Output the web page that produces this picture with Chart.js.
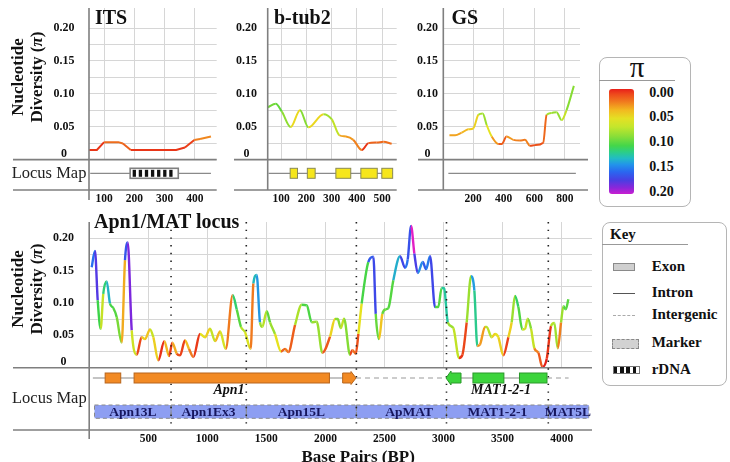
<!DOCTYPE html>
<html lang="en"><head>
<meta charset="utf-8"/>
<title>Nucleotide diversity across loci</title>
<script src="https://cdn.jsdelivr.net/npm/chart.js"></script>
<style>
    body { margin: 0; background: #fff; }
    #fig { position: relative; width: 730px; height: 462px; overflow: hidden; font-family: 'Liberation Serif', 'Times New Roman', serif; color: #111; }
    #fig canvas, #fig .t { position: absolute; }
    .t { white-space: nowrap; }
    .ttl { font-size: 20px; font-weight: bold; line-height: 20px; }
    .ylab { width: 120px; height: 38px; font-size: 17px; font-weight: bold; line-height: 19px; text-align: center; transform: rotate(-90deg); }
    .lm { font-size: 16.5px; line-height: 16.5px; color: #222; }
    .box { position: absolute; border: 1px solid #b5b5b5; border-radius: 8px; box-sizing: border-box; }
    .lg { font-size: 14px; font-weight: bold; line-height: 14px; }
    .key { font-size: 15px; font-weight: bold; line-height: 15px; }
    .sw { position: absolute; box-sizing: border-box; }
</style>
</head>
<body>
<div id="fig">
  <canvas id="cITS" width="225" height="212" style="left:0;top:0"></canvas>
  <canvas id="cTub" width="178" height="212" style="left:225px;top:0"></canvas>
  <canvas id="cGS" width="192" height="212" style="left:403px;top:0"></canvas>
  <canvas id="cApn" width="600" height="252" style="left:0;top:210px"></canvas>

  <div class="t ttl" style="left:95px;top:6.5px">ITS</div>
  <div class="t ttl" style="left:274px;top:6.5px">b-tub2</div>
  <div class="t ttl" style="left:451.5px;top:6.5px">GS</div>
  <div class="t ttl" style="left:94px;top:210.5px">Apn1/MAT locus</div>

  <div class="t ylab" style="left:-33.5px;top:57.7px">Nucleotide<br>Diversity (<i>π</i>)</div>
  <div class="t ylab" style="left:-33.5px;top:270px">Nucleotide<br>Diversity (<i>π</i>)</div>
  <div class="t lm" style="left:11.7px;top:165.4px">Locus Map</div>
  <div class="t lm" style="left:12px;top:389.8px">Locus Map</div>
  <div class="t" style="left:301.5px;top:447.5px;font-size:17px;font-weight:bold;line-height:17px">Base Pairs (BP)</div>

  <!-- pi colour legend -->
  <div class="box" style="left:599px;top:57px;width:92px;height:150px"></div>
  <div class="t" style="left:620px;top:53px;width:34px;text-align:center;font-size:29px;line-height:29px">π</div>
  <div class="sw" style="left:599px;top:79.5px;width:76px;height:0;border-top:1px solid #999"></div>
  <div class="sw" style="left:609px;top:89.3px;width:25.3px;height:105px;border-radius:3px;background:linear-gradient(to bottom,#e8201a 0%,#ee4a1c 5%,#f07a1e 12%,#f2b820 20%,#e4e024 28%,#c4e62c 36%,#8ade38 45%,#44d64a 54%,#2cce86 60%,#22bcc4 66%,#2294ea 72%,#2a66f0 79%,#4a3ee2 87%,#8a26da 94%,#c81ed0 100%)"></div>
  <div class="t lg" style="left:649.3px;top:85.7px">0.00</div>
  <div class="t lg" style="left:649.3px;top:110.4px">0.05</div>
  <div class="t lg" style="left:649.3px;top:134.8px">0.10</div>
  <div class="t lg" style="left:649.3px;top:159.7px">0.15</div>
  <div class="t lg" style="left:649.3px;top:184.7px">0.20</div>

  <!-- key -->
  <div class="box" style="left:601.7px;top:222.3px;width:125px;height:163.5px"></div>
  <div class="t key" style="left:610px;top:227px">Key</div>
  <div class="sw" style="left:601.7px;top:244px;width:86.6px;height:0;border-top:1px solid #999"></div>
  <div class="sw" style="left:612.7px;top:262.7px;width:22.3px;height:8.5px;background:#cfcfcf;border:1px solid #8a8a8a"></div>
  <div class="t key" style="left:651.7px;top:259.4px">Exon</div>
  <div class="sw" style="left:612.7px;top:292.8px;width:22.3px;height:0;border-top:1.2px solid #555"></div>
  <div class="t key" style="left:651.7px;top:284.6px">Intron</div>
  <div class="sw" style="left:612.7px;top:314.5px;width:22.3px;height:0;border-top:1px dashed #aaa"></div>
  <div class="t key" style="left:651.7px;top:306.6px">Intergenic</div>
  <div class="sw" style="left:611.7px;top:339px;width:27.6px;height:9.5px;background:#d2d2d2;border:1px dashed #888"></div>
  <div class="t key" style="left:651.7px;top:335.4px">Marker</div>
  <div class="sw" style="left:612.7px;top:366px;width:27.3px;height:7.5px;border:1px solid #777;background:repeating-linear-gradient(to right,#111 0,#111 3.5px,#fff 3.5px,#fff 6.2px)"></div>
  <div class="t key" style="left:651.7px;top:362.1px">rDNA</div>
</div>
<script>
        // ITS
        const itsBp = [43, 76, 100, 147, 162, 188, 338, 367, 398, 417, 453];
        const itsPi = [0.0146, 0.0146, 0.0265, 0.0265, 0.0245, 0.0146, 0.0146, 0.0184, 0.0298, 0.0313, 0.0350];
        // b-tub2
        const tubBp = [47, 79, 103, 138, 175, 208, 268, 301, 331, 357, 386, 420, 446, 479, 506, 538];
        const tubPi = [0.0795, 0.085, 0.073, 0.0495, 0.075, 0.049, 0.069, 0.061, 0.037, 0.035, 0.030, 0.0146, 0.025, 0.026, 0.027, 0.024];
        // GS
        const gsBp = [46, 83, 126, 169, 202, 235, 263, 289, 322, 365, 387, 419, 463, 506, 539, 571, 604, 658, 680, 713, 745, 778, 810, 858];
        const gsPi = [0.037, 0.037, 0.041, 0.046, 0.0476, 0.068, 0.070, 0.0526, 0.035, 0.0237, 0.0237, 0.035, 0.030, 0.029, 0.030, 0.021, 0.022, 0.0257, 0.068, 0.071, 0.072, 0.060, 0.075, 0.112];
        // Apn1/MAT locus
        const apnBp = [21, 49, 72, 97, 119, 148, 176, 204, 233, 275, 303, 326, 360, 402, 444, 472, 515, 543, 585, 636,
            676, 704, 741, 769, 811, 845, 882, 938, 981, 1023, 1066, 1108, 1156, 1215, 1249, 1285, 1319, 1367, 1390, 1418,
            1446, 1466, 1503, 1531, 1573, 1624, 1658, 1686, 1743, 1799, 1842, 1884, 1926, 1974, 2039, 2081, 2104, 2130, 2158, 2208,
            2228, 2257, 2279, 2307, 2363, 2406, 2426, 2454, 2482, 2511, 2533, 2575, 2632, 2674, 2697, 2725, 2753, 2782, 2824, 2852,
            2886, 2928, 2956, 2984, 3004, 3036, 3083, 3131, 3160, 3196, 3233, 3261, 3286, 3308, 3351, 3365, 3408, 3436, 3464, 3506,
            3549, 3577, 3605, 3633, 3667, 3690, 3713, 3741, 3769, 3803, 3837, 3874, 3910, 3938, 3967, 3995, 4015, 4035, 4057];
        const apnPi = [0.155, 0.180, 0.104, 0.060, 0.114, 0.133, 0.099, 0.092, 0.078, 0.0386, 0.166, 0.193, 0.0577, 0.020, 0.047, 0.044, 0.059, 0.047, 0.0114, 0.041,
            0.018, 0.0386, 0.0216, 0.019, 0.042, 0.029, 0.0165, 0.052, 0.047, 0.060, 0.041, 0.056, 0.029, 0.112, 0.090, 0.063, 0.055, 0.029, 0.130, 0.143,
            0.070, 0.063, 0.087, 0.070, 0.052, 0.025, 0.029, 0.024, 0.066, 0.097, 0.096, 0.070, 0.071, 0.023, 0.048, 0.075, 0.075, 0.061, 0.0756, 0.020,
            0.027, 0.0216, 0.052, 0.099, 0.163, 0.171, 0.083, 0.044, 0.083, 0.090, 0.092, 0.135, 0.172, 0.154, 0.167, 0.2185, 0.176, 0.146, 0.163, 0.152,
            0.172, 0.0936, 0.0936, 0.123, 0.123, 0.070, 0.061, 0.015, 0.020, 0.070, 0.141, 0.119, 0.0335, 0.0355, 0.063, 0.063, 0.047, 0.052, 0.047, 0.019,
            0.047, 0.070, 0.1105, 0.094, 0.059, 0.060, 0.0756, 0.060, 0.030, 0.023, 0.001, 0.014, 0.064, 0.069, 0.030, 0.070, 0.095, 0.090, 0.1055];

        // tick values
        const piTicks = [0, 0.025, 0.05, 0.075, 0.1, 0.125, 0.15, 0.175, 0.2];
        const itsTicks = [100, 200, 300, 400];
        const tubTicks = [100, 200, 300, 400, 500];
        const gsTicks = [200, 400, 600, 800];
        const apnTicks = [500, 1000, 1500, 2000, 2500, 3000, 3500, 4000];

        // locus maps (bp)
        const itsSpan = [54, 453];
        const itsRdna = [186, 345];
        const tubSpan = [50, 542];
        const tubExons = [[136, 165], [204, 235], [317, 376], [416, 481], [499, 542]];
        const gsSpan = [39, 871];
        const apnIntrons = [[31, 2259], [3021, 3876]];
        const apnIntergenic = [[2259, 3021], [3876, 4059]];
        const apn1Exons = [[135, 267], [380, 2034]];
        const apn1Arrow = [2146, 2259];
        const matExons = [[3249, 3511], [3643, 3876]];
        const matArrow = [3021, 3148];
        const geneNames = ['Apn1', 'MAT1-2-1'];
        const geneNameAt = [1184, 3487];
        const markerBounds = [45, 693, 1330, 2262, 3025, 3887, 4230];
        const markerNames = ['Apn13L', 'Apn1Ex3', 'Apn15L', 'ApMAT', 'MAT1-2-1', 'MAT5L'];
        const markerNameAt = [369, 1011, 1796, 2708, 3456, 4053];
        const markerCuts = [693, 1330, 2262, 3025, 3887];

        const SERIF = "'Liberation Serif', 'Times New Roman', serif";
        const GRID = '#d6d6d6';
        const AXIS = '#7f7f7f';
        const piStops = [
            [0.000, [228, 30, 26]], [0.018, [234, 60, 24]], [0.030, [240, 128, 30]], [0.042, [242, 188, 32]],
            [0.052, [230, 226, 30]], [0.065, [176, 226, 42]], [0.082, [104, 216, 58]], [0.105, [58, 212, 74]],
            [0.125, [36, 198, 168]], [0.140, [34, 160, 222]], [0.155, [40, 112, 240]], [0.172, [62, 70, 232]],
            [0.190, [110, 40, 224]], [0.215, [226, 32, 196]]
        ];

        function piColor(v) {
            if (v <= piStops[0][0]) return 'rgb(' + piStops[0][1].join(',') + ')';
            for (let i = 1; i < piStops.length; i++) {
                if (v <= piStops[i][0]) {
                    const t = (v - piStops[i - 1][0]) / (piStops[i][0] - piStops[i - 1][0]);
                    const a = piStops[i - 1][1], b = piStops[i][1];
                    return 'rgb(' + a.map((c, k) => Math.round(c + (b[k] - c) * t)).join(',') + ')';
                }
            }
            return 'rgb(' + piStops[piStops.length - 1][1].join(',') + ')';
        }

        function locusPlugin(s) {
            return {
                id: 'locus',
                afterDraw(chart) {
                    const { ctx, chartArea: a, scales: { x } } = chart;
                    const px = v => x.getPixelForValue(v);
                    const b = a.bottom;
                    const gy = b + s.rowDy;
                    const seg = (x0, y0, x1, y1) => { ctx.beginPath(); ctx.moveTo(x0, y0); ctx.lineTo(x1, y1); ctx.stroke(); };
                    ctx.save();

                    // marker bands
                    if (s.markers) {
                        const top = b + 37.3, h = 13.3;
                        ctx.fillStyle = '#8d9ef2';
                        ctx.fillRect(px(markerBounds[0]), top, px(markerBounds[markerBounds.length - 1]) - px(markerBounds[0]), h);
                        ctx.strokeStyle = '#8a8a8a';
                        ctx.lineWidth = 1;
                        ctx.setLineDash([4, 3]);
                        for (let i = 0; i < markerBounds.length - 1; i++) {
                            ctx.strokeRect(px(markerBounds[i]), top, px(markerBounds[i + 1]) - px(markerBounds[i]), h);
                        }
                        ctx.setLineDash([]);
                        ctx.fillStyle = '#16165e';
                        ctx.font = 'bold 13.5px ' + SERIF;
                        ctx.textAlign = 'center';
                        ctx.textBaseline = 'middle';
                        markerNames.forEach((n, i) => ctx.fillText(n, px(markerNameAt[i]), top + h / 2 + 1));
                    }

                    // separators and axis
                    ctx.strokeStyle = AXIS;
                    ctx.lineWidth = 1.6;
                    seg(s.sepL, b, a.right + s.sepR, b);
                    seg(s.sepL, b + s.low, a.right + s.sepR, b + s.low);
                    seg(a.left, a.top, a.left, b + s.axisDrop);

                    // marker boundaries
                    if (s.cuts) {
                        ctx.strokeStyle = '#222';
                        ctx.lineWidth = 1.6;
                        ctx.setLineDash([1.4, 6.3]);
                        markerCuts.forEach(c => seg(px(c), a.top, px(c), b + 62));
                        ctx.setLineDash([]);
                    }

                    // introns and spans
                    ctx.strokeStyle = '#8a8a8a';
                    ctx.lineWidth = 1.2;
                    (s.lines || []).forEach(l => seg(px(l[0]), gy, px(l[1]), gy));
                    ctx.setLineDash([5, 4]);
                    ctx.strokeStyle = '#9a9a9a';
                    (s.dashed || []).forEach(l => seg(px(l[0]), gy, px(l[1]), gy));
                    ctx.setLineDash([]);

                    // exon boxes
                    const box = (l, fill, edge) => {
                        ctx.fillStyle = fill; ctx.strokeStyle = edge; ctx.lineWidth = 1;
                        ctx.fillRect(px(l[0]), gy - 5, px(l[1]) - px(l[0]), 10);
                        ctx.strokeRect(px(l[0]), gy - 5, px(l[1]) - px(l[0]), 10);
                    };
                    const arrow = (l, dir, fill, edge) => {
                        const x0 = px(l[0]), x1 = px(l[1]);
                        ctx.fillStyle = fill; ctx.strokeStyle = edge; ctx.lineWidth = 1;
                        ctx.beginPath();
                        if (dir > 0) {
                            ctx.moveTo(x0, gy - 5); ctx.lineTo(x1 - 5, gy - 5); ctx.lineTo(x1 - 5, gy - 6.5);
                            ctx.lineTo(x1, gy); ctx.lineTo(x1 - 5, gy + 6.5); ctx.lineTo(x1 - 5, gy + 5); ctx.lineTo(x0, gy + 5);
                        } else {
                            ctx.moveTo(x1, gy - 5); ctx.lineTo(x0 + 5, gy - 5); ctx.lineTo(x0 + 5, gy - 7);
                            ctx.lineTo(x0, gy); ctx.lineTo(x0 + 5, gy + 7); ctx.lineTo(x0 + 5, gy + 5); ctx.lineTo(x1, gy + 5);
                        }
                        ctx.closePath(); ctx.fill(); ctx.stroke();
                    };
                    (s.exons || []).forEach(e => box(e[0], e[1], e[2]));
                    (s.arrows || []).forEach(e => arrow(e[0], e[1], e[2], e[3]));

                    // rDNA block
                    if (s.rdna) {
                        const x0 = px(s.rdna[0]), x1 = px(s.rdna[1]);
                        ctx.fillStyle = '#fff';
                        ctx.fillRect(x0, gy - 5, x1 - x0, 10);
                        ctx.fillStyle = '#111';
                        for (let xx = x0 + 2.5; xx + 3.3 <= x1 - 2; xx += 6.1) ctx.fillRect(xx, gy - 3.5, 3.3, 7);
                        ctx.strokeStyle = '#808080'; ctx.lineWidth = 1.6;
                        ctx.strokeRect(x0, gy - 5, x1 - x0, 10);
                    }

                    // gene names
                    if (s.genes) {
                        ctx.fillStyle = '#111';
                        ctx.font = 'italic bold 14px ' + SERIF;
                        ctx.textAlign = 'center';
                        ctx.textBaseline = 'middle';
                        geneNames.forEach((n, i) => ctx.fillText(n, px(geneNameAt[i]), b + 23));
                    }
                    ctx.restore();
                }
            };
        }

        function makePanel(id, bp, pi, xTicks, xMin, xMax, yMax, f, spec) {
            return new Chart(document.getElementById(id), {
                type: 'line',
                data: {
                    datasets: [{
                        data: bp.map((v, i) => ({ x: v, y: pi[i] })),
                        borderColor: piColor(pi[0]),
                        borderWidth: f.lw,
                        pointRadius: 0,
                        tension: f.tension,
                        cubicInterpolationMode: f.tension ? 'monotone' : 'default',
                        segment: { borderColor: c => piColor(c.p0.parsed.y) }
                    }]
                },
                options: {
                    responsive: false,
                    animation: false,
                    devicePixelRatio: 1,
                    layout: { padding: { left: 0, right: f.padR, top: f.padT, bottom: 0 } },
                    plugins: { legend: { display: false }, tooltip: { enabled: false } },
                    scales: {
                        x: {
                            type: 'linear', min: xMin, max: xMax,
                            border: { display: false },
                            grid: { color: GRID, drawTicks: true, tickLength: f.xtl, tickColor: 'transparent' },
                            ticks: {
                                padding: 0, autoSkip: false, maxRotation: 0, color: '#111',
                                font: { family: SERIF, weight: 'bold', size: 11.5 },
                                callback: v => String(v)
                            },
                            afterBuildTicks: s => { s.ticks = xTicks.map(v => ({ value: v })); },
                            afterFit: s => { s.height = f.xh; }
                        },
                        y: {
                            min: 0, max: yMax,
                            border: { display: false },
                            grid: { color: GRID, drawTicks: true, tickLength: f.ytl, tickColor: 'transparent' },
                            ticks: {
                                padding: 0, autoSkip: false, crossAlign: 'center', color: '#111',
                                font: { family: SERIF, weight: 'bold', size: 12, lineHeight: 1 },
                                callback: v => v === 0 ? ['0', ''] : (Math.round(v / 0.025) % 2 ? '' : v.toFixed(2))
                            },
                            afterBuildTicks: s => { s.ticks = piTicks.map(v => ({ value: v })); },
                            afterFit: s => { s.width = f.yw; }
                        }
                    }
                },
                plugins: [locusPlugin(spec)]
            });
        }

        document.addEventListener('DOMContentLoaded', () => {
            makePanel('cITS', itsBp, itsPi, itsTicks, 50, 472, 0.2304,
                { lw: 2, tension: 0, padR: 8.3, padT: 8, xh: 52.4, xtl: 32.5, ytl: 14.5, yw: 89 },
                { sepL: 13, sepR: 0, low: 30.4, axisDrop: 40.4, rowDy: 13.7, lines: [itsSpan], rdna: itsRdna });
            makePanel('cTub', tubBp, tubPi, tubTicks, 47, 558, 0.2304,
                { lw: 2, tension: 0.2, padR: 6.3, padT: 8, xh: 52.4, xtl: 32.5, ytl: 10.7, yw: 42.7 },
                { sepL: 9, sepR: 0, low: 30.4, axisDrop: 30.4, rowDy: 13.7, lines: [tubSpan],
                  exons: tubExons.map(e => [e, '#f6e61c', '#8a8a55']) });
            makePanel('cGS', gsBp, gsPi, gsTicks, 6, 898, 0.2304,
                { lw: 2, tension: 0.2, padR: 15, padT: 8, xh: 52.4, xtl: 32.5, ytl: 5.3, yw: 40.3 },
                { sepL: 15, sepR: 8, low: 30.4, axisDrop: 30.4, rowDy: 13.7, lines: [gsSpan] });
            makePanel('cApn', apnBp, apnPi, apnTicks, 0, 4257, 0.2247,
                { lw: 2.4, tension: 0.2, padR: 8, padT: 12, xh: 94.3, xtl: 64.7, ytl: 15.2, yw: 89.2 },
                { sepL: 13, sepR: 0, low: 62.3, axisDrop: 71.3, rowDy: 10.3, markers: true, cuts: true, genes: true,
                  lines: apnIntrons, dashed: apnIntergenic,
                  exons: apn1Exons.map(e => [e, '#f28a24', '#b8651c']).concat(matExons.map(e => [e, '#3cd43c', '#2a9a2a'])),
                  arrows: [[apn1Arrow, 1, '#f28a24', '#b8651c'], [matArrow, -1, '#3cd43c', '#2a9a2a']] });
        });
    </script>
</body></html>
